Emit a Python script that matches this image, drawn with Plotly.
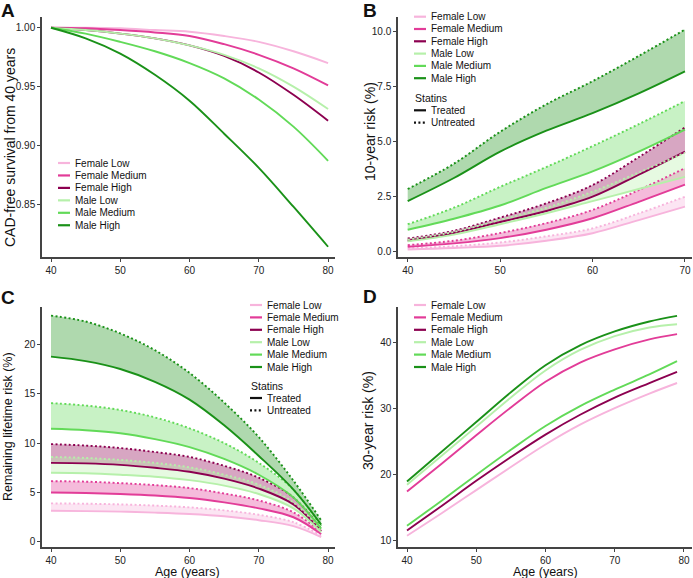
import plotly.graph_objects as go

W, H = 693, 578
FONT = "Liberation Sans, Arial, Helvetica, sans-serif"


def px(x):
    return x / W


def py(y):
    return 1 - y / H


# ---------------- data ----------------
series = ["Female Low", "Female Medium", "Female High", "Male Low", "Male Medium", "Male High"]
colors = ["#F7B4DC", "#E23C98", "#8C0050", "#B6F0AA", "#62DA58", "#1A9118"]

# Panel A: CAD-free survival from 40 years
age_a = [40, 45, 50, 55, 60, 65, 70, 75, 80]
surv_female_low = [1.0, 1.0, 0.9995, 0.998, 0.9966, 0.993, 0.988, 0.980, 0.970]
surv_female_medium = [1.0, 0.9995, 0.998, 0.996, 0.993, 0.986, 0.977, 0.9655, 0.951]
surv_female_high = [1.0, 0.998, 0.995, 0.991, 0.985, 0.976, 0.962, 0.943, 0.921]
surv_male_low = [1.0, 0.998, 0.995, 0.991, 0.985, 0.977, 0.9655, 0.950, 0.931]
surv_male_medium = [1.0, 0.995, 0.988, 0.980, 0.970, 0.957, 0.939, 0.916, 0.887]
surv_male_high = [1.0, 0.991, 0.978, 0.960, 0.938, 0.910, 0.881, 0.848, 0.814]

# Panel B: 10-year risk (%)
age_b = [40, 45, 50, 55, 60, 65, 70]
r10_treated_female_low = [0.10, 0.17, 0.27, 0.50, 0.84, 1.44, 2.05]
r10_untreated_female_low = [0.15, 0.25, 0.42, 0.70, 1.06, 1.74, 2.50]
r10_treated_female_medium = [0.22, 0.38, 0.62, 1.00, 1.52, 2.27, 3.05]
r10_untreated_female_medium = [0.30, 0.50, 0.85, 1.30, 1.90, 2.80, 3.80]
r10_treated_female_high = [0.50, 0.85, 1.35, 1.85, 2.50, 3.50, 4.55]
r10_untreated_female_high = [0.60, 0.95, 1.55, 2.20, 3.03, 4.30, 5.65]
r10_treated_male_low = [0.47, 0.78, 1.25, 1.75, 2.30, 2.85, 3.40]
r10_untreated_male_low = [0.55, 0.90, 1.45, 2.00, 2.73, 3.60, 4.50]
r10_treated_male_medium = [1.00, 1.50, 2.10, 2.90, 3.65, 4.55, 5.55]
r10_untreated_male_medium = [1.25, 2.00, 2.95, 3.85, 4.80, 5.80, 6.85]
r10_treated_male_high = [2.30, 3.35, 4.55, 5.50, 6.30, 7.20, 8.20]
r10_untreated_male_high = [2.85, 4.00, 5.45, 6.70, 7.75, 8.90, 10.10]

# Panel C: remaining lifetime risk (%)
age_c = [40, 45, 50, 55, 60, 65, 70, 75, 79]
life_treated_female_low = [3.15, 3.12, 3.07, 2.97, 2.83, 2.60, 2.20, 1.60, 0.50]
life_untreated_female_low = [3.90, 3.87, 3.80, 3.68, 3.50, 3.20, 2.75, 2.00, 0.65]
life_treated_female_medium = [5.00, 4.95, 4.85, 4.70, 4.45, 4.00, 3.40, 2.50, 0.80]
life_untreated_female_medium = [6.15, 6.10, 5.95, 5.75, 5.45, 4.90, 4.20, 3.00, 0.95]
life_treated_female_high = [8.00, 7.95, 7.80, 7.50, 7.10, 6.40, 5.40, 3.80, 1.10]
life_untreated_female_high = [9.90, 9.75, 9.50, 9.10, 8.60, 7.70, 6.50, 4.50, 1.35]
life_treated_male_low = [7.00, 6.95, 6.80, 6.60, 6.25, 5.70, 4.85, 3.40, 1.00]
life_untreated_male_low = [8.60, 8.50, 8.30, 8.00, 7.55, 6.80, 5.80, 4.00, 1.20]
life_treated_male_medium = [11.45, 11.30, 11.00, 10.40, 9.60, 8.40, 6.80, 4.50, 1.35]
life_untreated_male_medium = [14.05, 13.80, 13.35, 12.60, 11.50, 10.00, 8.00, 5.30, 1.60]
life_treated_male_high = [18.75, 18.30, 17.50, 16.20, 14.40, 11.80, 8.70, 5.30, 1.75]
life_untreated_male_high = [22.90, 22.30, 21.10, 19.40, 17.10, 14.10, 10.60, 6.20, 2.20]

# Panel D: 30-year risk (%)
age_d = [40, 45, 50, 55, 60, 65, 70, 75, 79]
r30_female_low = [10.8, 14.2, 17.7, 21.2, 24.6, 27.6, 30.1, 32.3, 33.9]
r30_female_medium = [17.5, 21.7, 26.0, 30.2, 34.1, 37.0, 39.0, 40.5, 41.3]
r30_female_high = [11.6, 15.3, 19.1, 22.7, 26.1, 29.1, 31.7, 33.9, 35.6]
r30_male_low = [18.5, 22.9, 27.3, 31.7, 35.8, 38.9, 41.0, 42.3, 42.8]
r30_male_medium = [12.3, 16.1, 20.0, 23.8, 27.4, 30.4, 32.9, 35.2, 37.2]
r30_male_high = [19.0, 23.5, 28.0, 32.5, 36.6, 39.6, 41.7, 43.2, 44.05]

surv_a = [surv_female_low, surv_female_medium, surv_female_high,
          surv_male_low, surv_male_medium, surv_male_high]
r10_t = [r10_treated_female_low, r10_treated_female_medium, r10_treated_female_high,
         r10_treated_male_low, r10_treated_male_medium, r10_treated_male_high]
r10_u = [r10_untreated_female_low, r10_untreated_female_medium, r10_untreated_female_high,
         r10_untreated_male_low, r10_untreated_male_medium, r10_untreated_male_high]
life_t = [life_treated_female_low, life_treated_female_medium, life_treated_female_high,
          life_treated_male_low, life_treated_male_medium, life_treated_male_high]
life_u = [life_untreated_female_low, life_untreated_female_medium, life_untreated_female_high,
          life_untreated_male_low, life_untreated_male_medium, life_untreated_male_high]
r30 = [r30_female_low, r30_female_medium, r30_female_high,
       r30_male_low, r30_male_medium, r30_male_high]


def rgba(hexc, a):
    h = hexc.lstrip("#")
    r, g, b = int(h[0:2], 16), int(h[2:4], 16), int(h[4:6], 16)
    return f"rgba({r},{g},{b},{a})"


DOT = "2px,2.4px"
LW = 1.9

fig = go.Figure()

# Panel A
for name, col, ys in zip(series, colors, surv_a):
    fig.add_trace(go.Scatter(x=age_a, y=ys, mode="lines", name=name,
                             line=dict(color=col, width=LW, shape="spline"),
                             xaxis="x", yaxis="y", showlegend=False))


def banded(ages, treated, untreated, xa, ya):
    # fills first
    for name, col, t, u in zip(series, colors, treated, untreated):
        fig.add_trace(go.Scatter(x=ages, y=u, mode="lines", line=dict(width=0, shape="spline"),
                                 xaxis=xa, yaxis=ya, showlegend=False, hoverinfo="skip"))
        fig.add_trace(go.Scatter(x=ages, y=t, mode="lines", line=dict(width=0, shape="spline"),
                                 fill="tonexty", fillcolor=rgba(col, 0.35),
                                 xaxis=xa, yaxis=ya, showlegend=False, hoverinfo="skip"))
    for name, col, t, u in zip(series, colors, treated, untreated):
        fig.add_trace(go.Scatter(x=ages, y=u, mode="lines", name=name + " untreated",
                                 line=dict(color=col, width=LW, dash=DOT, shape="spline"),
                                 xaxis=xa, yaxis=ya, showlegend=False))
        fig.add_trace(go.Scatter(x=ages, y=t, mode="lines", name=name + " treated",
                                 line=dict(color=col, width=LW, shape="spline"),
                                 xaxis=xa, yaxis=ya, showlegend=False))


banded(age_b, r10_t, r10_u, "x2", "y2")
banded(age_c, life_t, life_u, "x3", "y3")

for name, col, ys in zip(series, colors, r30):
    fig.add_trace(go.Scatter(x=age_d, y=ys, mode="lines", name=name,
                             line=dict(color=col, width=LW, shape="spline"),
                             xaxis="x4", yaxis="y4", showlegend=False))


def ax(**kw):
    d = dict(showline=True, linecolor="#444", linewidth=1.5, ticks="outside", ticklen=3,
             tickwidth=1.2, tickcolor="#444", showgrid=False, zeroline=False,
             tickfont=dict(family=FONT, size=10, color="#222"), fixedrange=True)
    d.update(kw)
    return d


xt = [40, 50, 60, 70, 80]
fig.update_layout(
    width=W, height=H, margin=dict(l=0, r=0, t=0, b=0),
    paper_bgcolor="white", plot_bgcolor="white", showlegend=False,
    font=dict(family=FONT, color="#222"),
    xaxis=ax(domain=[px(42), px(335)], range=[38.7, 81.0], anchor="y", tickvals=xt),
    yaxis=ax(domain=[py(257), py(17)], range=[0.8053, 1.0091], anchor="x",
             tickvals=[0.85, 0.90, 0.95, 1.00], ticktext=["0.85", "0.90", "0.95", "1.00"]),
    xaxis2=ax(domain=[px(398), px(692)], range=[38.95, 70.76], anchor="y2", tickvals=[40, 50, 60, 70]),
    yaxis2=ax(domain=[py(257), py(17)], range=[-0.24, 10.67], anchor="x2",
              tickvals=[0, 2.5, 5, 7.5, 10], ticktext=["0.0", "2.5", "5.0", "7.5", "10.0"]),
    xaxis3=ax(domain=[px(42), px(335)], range=[38.7, 81.0], anchor="y3", tickvals=xt),
    yaxis3=ax(domain=[py(547), py(307)], range=[-0.51, 23.77], anchor="x3", tickvals=[0, 5, 10, 15, 20]),
    xaxis4=ax(domain=[px(398), px(692)], range=[38.70, 81.16], anchor="y4", tickvals=xt),
    yaxis4=ax(domain=[py(547), py(307)], range=[9.09, 45.4], anchor="x4", tickvals=[10, 20, 30, 40]),
)

annotations = []
shapes = []


def text(x, y, s, size, angle=0, bold=False, xanchor="center"):
    annotations.append(dict(x=px(x), y=py(y), xref="paper", yref="paper", text=(f"<b>{s}</b>" if bold else s),
                            showarrow=False, textangle=angle, xanchor=xanchor, yanchor="middle",
                            font=dict(family=FONT, size=size, color="#111")))


# panel letters
text(8, 10, "A", 19, bold=True)
text(370, 10, "B", 19, bold=True)
text(8, 297, "C", 19, bold=True)
text(370, 296, "D", 19, bold=True)

# axis titles
text(10, 148, "CAD-free survival from 40 years", 14, angle=-90)
text(370, 132, "10-year risk (%)", 14, angle=-90)
text(8, 427, "Remaining lifetime risk (%)", 12.5, angle=-90)
text(368, 421, "30-year risk (%)", 14, angle=-90)
text(187, 572, "Age (years)", 12.5)
text(545, 572, "Age (years)", 12.5)


def legend(x0, y0, step, statins_y=None):
    for i, (name, col) in enumerate(zip(series, colors)):
        y = y0 + i * step
        shapes.append(dict(type="line", xref="paper", yref="paper", x0=px(x0), x1=px(x0 + 12),
                           y0=py(y), y1=py(y), line=dict(color=col, width=2.2)))
        text(x0 + 15, y, name, 10, xanchor="left")
    if statins_y is not None:
        text(x0 - 1.5, statins_y, "Statins", 10.5, xanchor="left")
        for j, (lab, dash) in enumerate([("Treated", "solid"), ("Untreated", DOT)]):
            y = statins_y + 12 + j * 12.3
            shapes.append(dict(type="line", xref="paper", yref="paper", x0=px(x0), x1=px(x0 + 12),
                               y0=py(y), y1=py(y), line=dict(color="#111", width=2.2, dash=dash)))
            text(x0 + 15, y, lab, 10, xanchor="left")


legend(58, 163, 12.45)
legend(414, 16.7, 12.3, statins_y=98.3)
legend(250, 305, 12.4, statins_y=386)
legend(414, 305, 12.4)

fig.update_layout(annotations=annotations, shapes=shapes)
fig.write_html("out.html", config={"displayModeBar": False},
               post_script="document.body.style.margin='0';document.body.style.padding='0';")
